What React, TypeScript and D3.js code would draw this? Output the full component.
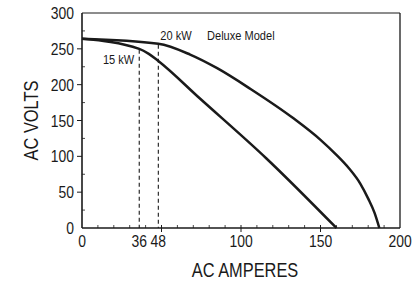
import React from 'react';
import * as d3 from 'd3';

// 20 kW Deluxe Model curve
const kw20Amps = [0, 48, 68, 85, 106, 133, 150, 160, 168, 175, 180, 184, 187];
const kw20Volts = [264, 257, 242, 223, 194, 153, 123, 102, 83, 62, 41, 21, 0];

// 15 kW curve
const kw15Amps = [0, 36, 42, 48, 74, 116, 160];
const kw15Volts = [264, 250, 243, 233, 181, 97, 0];

// rated-load markers (amps, volts where the dashed line starts)
const markerAmps = [36, 48];
const markerVolts = [250, 257];

const xTickLabels = [0, 36, 48, 100, 150, 200];
const yTickLabels = [0, 50, 100, 150, 200, 250, 300];

const W = 413;
const H = 282;
const margin = { top: 13, right: 13, bottom: 54, left: 82 };
const FONT = '"Liberation Sans", Arial, sans-serif';
const INK = '#1a1a1a';
const NARROW = 0.82; // no condensed face installed, squeeze horizontally

function NText({
  x,
  y,
  size,
  anchor = 'start',
  rotate = 0,
  dy,
  children,
}: {
  x: number;
  y: number;
  size: number;
  anchor?: 'start' | 'middle' | 'end';
  rotate?: number;
  dy?: string;
  children: React.ReactNode;
}) {
  return (
    <text
      transform={`translate(${x},${y}) rotate(${rotate}) scale(${NARROW},1)`}
      textAnchor={anchor}
      dy={dy}
      fontFamily={FONT}
      fontSize={size}
      fill={INK}
    >
      {children}
    </text>
  );
}

export default function App() {
  const x = d3.scaleLinear().domain([0, 200]).range([margin.left, W - margin.right]);
  const y = d3.scaleLinear().domain([0, 300]).range([H - margin.bottom, margin.top]);

  const line = d3
    .line<[number, number]>()
    .x((d) => x(d[0]))
    .y((d) => y(d[1]))
    .curve(d3.curveMonotoneX);

  const kw20 = kw20Amps.map((a, i) => [a, kw20Volts[i]] as [number, number]);
  const kw15 = kw15Amps.map((a, i) => [a, kw15Volts[i]] as [number, number]);

  const x0 = x(0);
  const x1 = x(200);
  const y0 = y(0);
  const y1 = y(300);

  const xMinor = d3.range(10, 200, 10).filter((v) => v % 50 !== 0);
  const xMajor = [50, 100, 150];
  const yMinor = d3.range(25, 300, 50);
  const yMajor = d3.range(50, 300, 50);

  return (
    <div style={{ position: 'absolute', left: 0, top: 0 }}>
      <svg width={W} height={H} style={{ display: 'block', background: '#fff' }}>
        {/* frame */}
        <line x1={x0} y1={y1} x2={x1} y2={y1} stroke={INK} strokeWidth={1} />
        <line x1={x1} y1={y1} x2={x1} y2={y0} stroke={INK} strokeWidth={1.3} />
        <line x1={x0} y1={y1} x2={x0} y2={y0} stroke={INK} strokeWidth={1.6} />
        <line x1={x0} y1={y0} x2={x1} y2={y0} stroke={INK} strokeWidth={1.6} />

        {/* x ticks */}
        {xMinor.map((v) => (
          <line key={'xm' + v} x1={x(v)} x2={x(v)} y1={y0} y2={y0 - 3} stroke={INK} strokeWidth={0.8} />
        ))}
        {xMajor.map((v) => (
          <line key={'xM' + v} x1={x(v)} x2={x(v)} y1={y0 - 3} y2={y0 + 4} stroke={INK} strokeWidth={1} />
        ))}
        {/* y ticks */}
        {yMinor.map((v) => (
          <line key={'ym' + v} x1={x0} x2={x0 + 3} y1={y(v)} y2={y(v)} stroke={INK} strokeWidth={0.8} />
        ))}
        {yMajor.map((v) => (
          <line key={'yM' + v} x1={x0 - 5} x2={x0} y1={y(v)} y2={y(v)} stroke={INK} strokeWidth={1} />
        ))}

        {/* tick labels */}
        {yTickLabels.map((v) => (
          <NText key={'yl' + v} x={x0 - 8} y={y(v)} dy="0.36em" anchor="end" size={17}>
            {v}
          </NText>
        ))}
        {xTickLabels.map((v) => (
          <NText key={'xl' + v} x={x(v)} y={y0 + 19} anchor="middle" size={17}>
            {v}
          </NText>
        ))}

        {/* dashed rated-load markers */}
        {markerAmps.map((a, i) => (
          <line
            key={'mk' + a}
            x1={x(a)}
            x2={x(a)}
            y1={y(markerVolts[i]) + 1}
            y2={y0}
            stroke={INK}
            strokeWidth={1.1}
            strokeDasharray="4,3"
          />
        ))}

        {/* curves */}
        <path d={line(kw15) ?? ''} fill="none" stroke={INK} strokeWidth={2.5} />
        <path d={line(kw20) ?? ''} fill="none" stroke={INK} strokeWidth={2.5} />

        {/* annotations */}
        <NText x={x(36) - 5} y={64} anchor="end" size={13.5}>
          15 kW
        </NText>
        <NText x={x(48) + 2} y={39.5} size={13.5}>
          20 kW
        </NText>
        <NText x={207} y={39.5} size={13.5}>
          Deluxe Model
        </NText>

        {/* axis titles */}
        <NText x={(x0 + x1) / 2 + 4} y={277} anchor="middle" size={20}>
          AC AMPERES
        </NText>
        <NText x={38} y={(y0 + y1) / 2} anchor="middle" rotate={-90} size={20}>
          AC VOLTS
        </NText>
      </svg>
    </div>
  );
}
